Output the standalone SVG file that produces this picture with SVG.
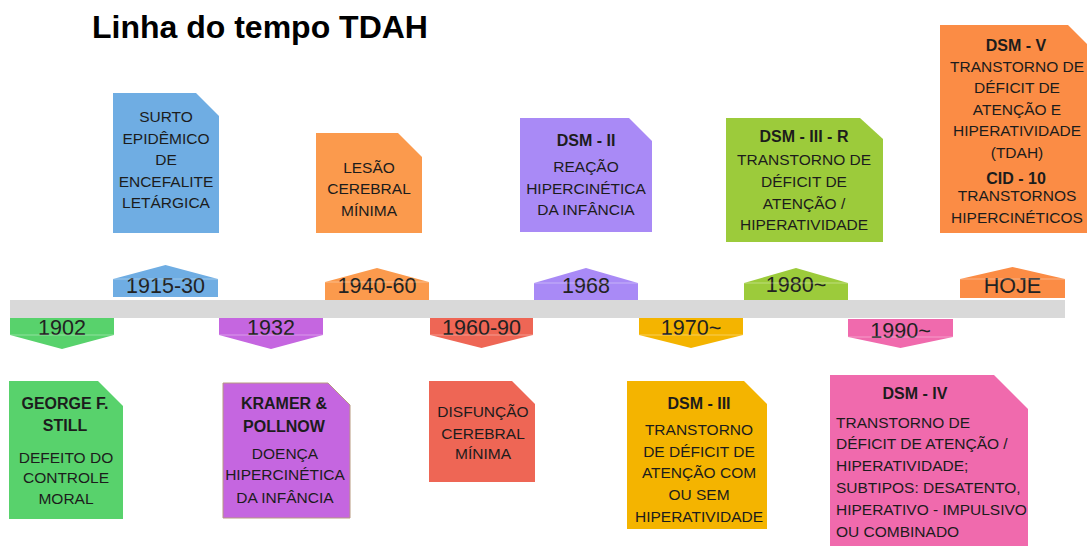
<svg xmlns="http://www.w3.org/2000/svg" width="1087" height="546" viewBox="0 0 1087 546">
<style>
text{font-family:"Liberation Sans",Arial,sans-serif;fill:#1c1c1c}
.t{font-size:15.5px;text-anchor:middle}
.b{font-size:16px;font-weight:bold;text-anchor:middle}
.l{font-size:15.5px;text-anchor:start}
.m{font-size:21.5px;text-anchor:middle;fill:#222}
.title{font-size:32px;font-weight:bold;fill:#000}
.sh{stroke:#fff;stroke-width:1;stroke-opacity:.35}
</style>
<rect width="1087" height="546" fill="#fff"/>
<text class="title" x="92" y="38">Linha do tempo TDAH</text>
<g id="timeline">
<rect x="10" y="300" width="1055" height="18" fill="#d9d9d9"/>
</g>
<g id="e1902">
<path d="M10 318H114V335L62 349L10 335Z" fill="#58d26c"/>
<text class="m" x="62" y="335">1902</text>
<line class="sh" x1="10" y1="335" x2="114" y2="335"/>
<path d="M9 381H98L123 406V519H9Z" fill="#58d26c"/>
<text class="b" x="65" y="409">GEORGE F.</text>
<text class="b" x="65" y="431">STILL</text>
<text class="t" x="66" y="463">DEFEITO DO</text>
<text class="t" x="66" y="483">CONTROLE</text>
<text class="t" x="66" y="504">MORAL</text>
</g>
<g id="e1915">
<path d="M113 297V279L165.5 265L218 279V297Z" fill="#6fade3"/>
<text class="m" x="165.5" y="293">1915-30</text>
<line class="sh" x1="113" y1="279" x2="218" y2="279"/>
<path d="M113 93H196L219 116V233H113Z" fill="#6fade3"/>
<text class="t" x="166" y="122">SURTO</text>
<text class="t" x="166" y="143.5">EPIDÊMICO</text>
<text class="t" x="166" y="165">DE</text>
<text class="t" x="166" y="186.5">ENCEFALITE</text>
<text class="t" x="166" y="208">LETÁRGICA</text>
</g>
<g id="e1932">
<path d="M219 318H323V335L271 349L219 335Z" fill="#c566e0"/>
<text class="m" x="271" y="335">1932</text>
<line class="sh" x1="219" y1="335" x2="323" y2="335"/>
<path d="M223 383H328L350 405V518H223Z" fill="#c566e0" stroke="#b89a80" stroke-width="1"/>
<text class="b" x="284" y="409">KRAMER &amp;</text>
<text class="b" x="284" y="432">POLLNOW</text>
<text class="t" x="285" y="459">DOENÇA</text>
<text class="t" x="285" y="480">HIPERCINÉTICA</text>
<text class="t" x="285" y="503">DA INFÂNCIA</text>
</g>
<g id="e1940">
<path d="M325 300V282L377 268L429 282V300Z" fill="#fb9a4d"/>
<text class="m" x="377" y="293">1940-60</text>
<line class="sh" x1="325" y1="282" x2="429" y2="282"/>
<path d="M316 133H398L422 157V233H316Z" fill="#fb9a4d"/>
<text class="t" x="369" y="173">LESÃO</text>
<text class="t" x="369" y="194">CEREBRAL</text>
<text class="t" x="369" y="216">MÍNIMA</text>
</g>
<g id="e1960">
<path d="M430 318H533V335L481.5 348L430 335Z" fill="#ee6655"/>
<text class="m" x="481.5" y="335">1960-90</text>
<line class="sh" x1="430" y1="335" x2="533" y2="335"/>
<path d="M429 381H512L535 404V482H429Z" fill="#ee6655"/>
<text class="t" x="483" y="417">DISFUNÇÃO</text>
<text class="t" x="483" y="439">CEREBRAL</text>
<text class="t" x="483" y="459">MÍNIMA</text>
</g>
<g id="e1968">
<path d="M534 300V283L586 268L638 283V300Z" fill="#a98af6"/>
<text class="m" x="586" y="293">1968</text>
<line class="sh" x1="534" y1="283" x2="638" y2="283"/>
<path d="M520 118H629L652 141V232H520Z" fill="#a98af6"/>
<text class="b" x="586" y="146">DSM - II</text>
<text class="t" x="586" y="172">REAÇÃO</text>
<text class="t" x="586" y="194">HIPERCINÉTICA</text>
<text class="t" x="586" y="215">DA INFÂNCIA</text>
</g>
<g id="e1970">
<path d="M639 318H743V335L691 348L639 335Z" fill="#f4b400"/>
<text class="m" x="691" y="335">1970~</text>
<line class="sh" x1="639" y1="335" x2="743" y2="335"/>
<path d="M627 381H744L767 404V529H627Z" fill="#f4b400"/>
<text class="b" x="699" y="409">DSM - III</text>
<text class="t" x="699" y="435">TRANSTORNO</text>
<text class="t" x="699" y="457">DE DÉFICIT DE</text>
<text class="t" x="699" y="478">ATENÇÃO COM</text>
<text class="t" x="699" y="500">OU SEM</text>
<text class="t" x="699" y="522">HIPERATIVIDADE</text>
</g>
<g id="e1980">
<path d="M744 300V283L796 268L848 283V300Z" fill="#9ccb3b"/>
<text class="m" x="796" y="292">1980~</text>
<line class="sh" x1="744" y1="283" x2="848" y2="283"/>
<path d="M726 118H860L883 139V242H726Z" fill="#9ccb3b"/>
<text class="b" x="804" y="142">DSM - III - R</text>
<text class="t" x="804" y="165">TRANSTORNO DE</text>
<text class="t" x="804" y="187">DÉFICIT DE</text>
<text class="t" x="804" y="209">ATENÇÃO /</text>
<text class="t" x="804" y="230">HIPERATIVIDADE</text>
</g>
<g id="e1990">
<path d="M848 319H953V337L900.5 348L848 337Z" fill="#f06aad"/>
<text class="m" x="900.5" y="338">1990~</text>
<line class="sh" x1="848" y1="337" x2="953" y2="337"/>
<path d="M830 375H994L1028 409V550H830Z" fill="#f06aad"/>
<text class="b" x="915" y="399">DSM - IV</text>
<text class="l" x="836" y="428">TRANSTORNO DE</text>
<text class="l" x="836" y="449">DÉFICIT DE ATENÇÃO /</text>
<text class="l" x="836" y="471">HIPERATIVIDADE;</text>
<text class="l" x="836" y="493">SUBTIPOS: DESATENTO,</text>
<text class="l" x="836" y="515">HIPERATIVO - IMPULSIVO</text>
<text class="l" x="836" y="537">OU COMBINADO</text>
</g>
<g id="ehoje">
<path d="M960 298V279L1012.5 267L1065 279V298Z" fill="#fb8c45"/>
<text class="m" x="1012.5" y="293">HOJE</text>
<line class="sh" x1="960" y1="279" x2="1065" y2="279"/>
<path d="M940 25H1068L1092 49V233H940Z" fill="#fb8c45"/>
<text class="b" x="1016" y="51">DSM - V</text>
<text class="t" x="1017" y="72">TRANSTORNO DE</text>
<text class="t" x="1017" y="93">DÉFICIT DE</text>
<text class="t" x="1017" y="115">ATENÇÃO E</text>
<text class="t" x="1017" y="136">HIPERATIVIDADE</text>
<text class="t" x="1017" y="158">(TDAH)</text>
<text class="b" x="1016" y="184">CID - 10</text>
<text class="t" x="1017" y="201">TRANSTORNOS</text>
<text class="t" x="1017" y="223">HIPERCINÉTICOS</text>
</g>
</svg>
